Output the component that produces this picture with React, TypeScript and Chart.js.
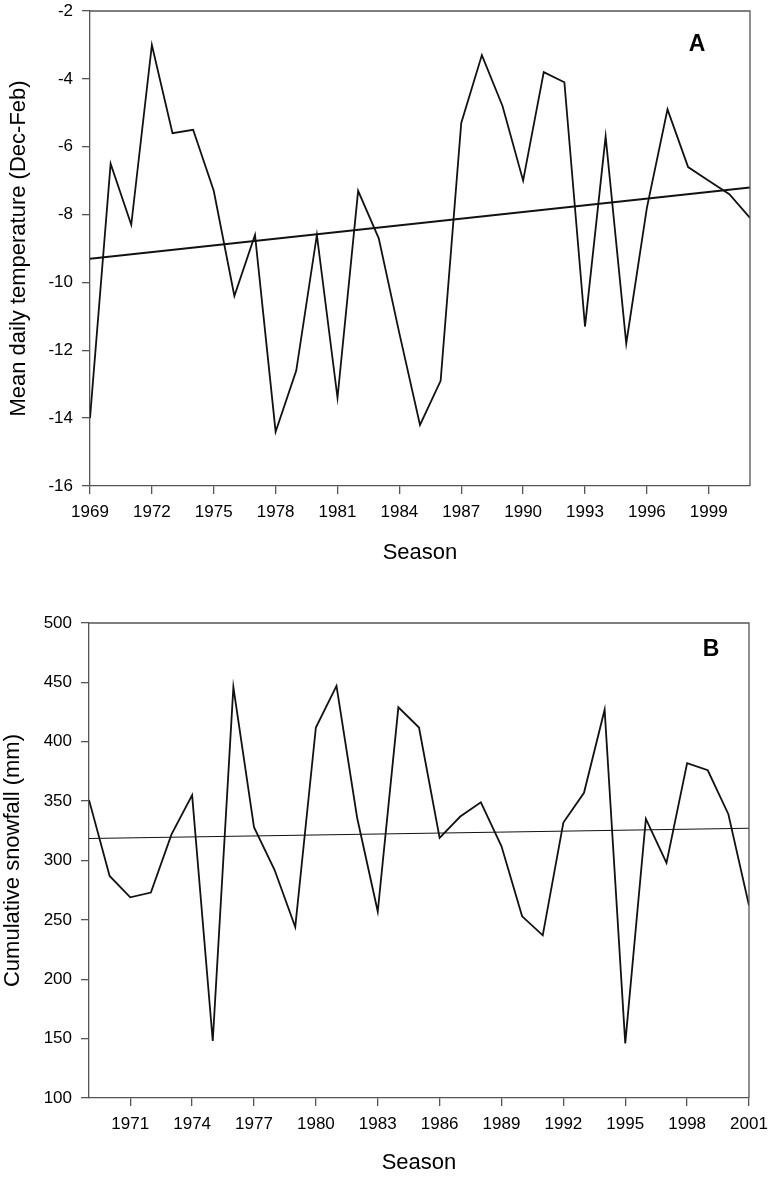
import React, { useEffect, useRef } from "react";
import { Chart, registerables } from "chart.js";

Chart.register(...registerables);

const years = [1969, 1970, 1971, 1972, 1973, 1974, 1975, 1976, 1977, 1978, 1979, 1980, 1981, 1982, 1983, 1984, 1985, 1986, 1987, 1988, 1989, 1990, 1991, 1992, 1993, 1994, 1995, 1996, 1997, 1998, 1999, 2000, 2001];
const tempA = [-14.0, -6.5, -8.3, -3.0, -5.6, -5.5, -7.3, -10.4, -8.6, -14.4, -12.6, -8.6, -13.4, -7.3, -8.7, -11.5, -14.2, -12.9, -5.3, -3.3, -4.8, -7.0, -3.8, -4.1, -11.3, -5.7, -11.8, -7.8, -4.9, -6.6, -7.0, -7.4, -8.1];
const snowB = [351, 287, 269, 273, 322, 355, 148, 446, 328, 292, 244, 412, 447, 336, 257, 429, 412, 319, 337, 349, 312, 253, 237, 332, 357, 427, 146, 335, 298, 382, 376, 339, 262];
const trendYears = [1969, 2001];
const trendA = [-9.3, -7.2];
const trendB = [318.5, 327.2];
const xTicksA = [1969, 1972, 1975, 1978, 1981, 1984, 1987, 1990, 1993, 1996, 1999];
const xTicksB = [1971, 1974, 1977, 1980, 1983, 1986, 1989, 1992, 1995, 1998, 2001];
const yTicksA = [-16, -14, -12, -10, -8, -6, -4, -2];
const yTicksB = [100, 150, 200, 250, 300, 350, 400, 450, 500];

const FONT = "Arial, 'Liberation Sans', sans-serif";

type PanelCfg = {
  values: number[];
  trend: number[];
  xTicks: number[];
  yTicks: number[];
  yTitle: string;
  letter: string;
  width: number;
  height: number;
  padTop: number;
  padRight: number;
  yWidth: number;
  xHeight: number;
  trendWidth: number;
  letterPos: [number, number];
  xTitlePadBottom: number;
  yTitlePad: number;
};

function Panel({ cfg, top }: { cfg: PanelCfg; top: number }) {
  const ref = useRef<HTMLCanvasElement | null>(null);
  useEffect(() => {
    if (!ref.current) return;
    const framePlugin = {
      id: "frame",
      afterDraw(chart: any) {
        const { ctx, chartArea } = chart;
        ctx.save();
        ctx.strokeStyle = "#555";
        ctx.lineWidth = 1.3;
        ctx.beginPath();
        ctx.moveTo(chartArea.left, chartArea.top);
        ctx.lineTo(chartArea.right, chartArea.top);
        ctx.lineTo(chartArea.right, chartArea.bottom);
        ctx.stroke();
        ctx.fillStyle = "#000";
        ctx.font = `bold 23px ${FONT}`;
        ctx.textAlign = "center";
        ctx.textBaseline = "middle";
        ctx.fillText(cfg.letter, chartArea.right - cfg.letterPos[0], chartArea.top + cfg.letterPos[1]);
        ctx.restore();
      },
    };
    const chart = new Chart(ref.current, {
      type: "line",
      data: {
        datasets: [
          {
            data: years.map((y, i) => ({ x: y, y: cfg.values[i] })),
            borderColor: "#111",
            borderWidth: 1.8,
            pointRadius: 0,
            tension: 0,
          },
          {
            data: trendYears.map((y, i) => ({ x: y, y: cfg.trend[i] })),
            borderColor: "#111",
            borderWidth: cfg.trendWidth,
            pointRadius: 0,
          },
        ],
      },
      options: {
        animation: false,
        responsive: false,
        layout: { padding: { top: cfg.padTop, right: cfg.padRight, left: 0, bottom: 0 } },
        plugins: { legend: { display: false }, tooltip: { enabled: false } },
        scales: {
          x: {
            type: "linear",
            min: 1969,
            max: 2001,
            afterBuildTicks: (scale: any) => {
              scale.ticks = cfg.xTicks.map((v) => ({ value: v }));
            },
            afterFit: (scale: any) => {
              scale.height = cfg.xHeight;
              scale.paddingLeft = 0;
              scale.paddingRight = 0;
            },
            grid: { drawOnChartArea: false, drawTicks: true, tickLength: 8, color: "#555", lineWidth: 1.3 },
            border: { display: true, color: "#555", width: 1.3 },
            ticks: {
              color: "#000",
              font: { family: FONT, size: 17 },
              padding: 8,
              maxRotation: 0,
              autoSkip: false,
              callback: (v: any) => String(v),
            },
            title: {
              display: true,
              text: "Season",
              color: "#000",
              font: { family: FONT, size: 22 },
              padding: { top: 0, bottom: cfg.xTitlePadBottom },
            },
          },
          y: {
            type: "linear",
            min: cfg.yTicks[0],
            max: cfg.yTicks[cfg.yTicks.length - 1],
            afterBuildTicks: (scale: any) => {
              scale.ticks = cfg.yTicks.map((v) => ({ value: v }));
            },
            afterFit: (scale: any) => {
              scale.width = cfg.yWidth;
              scale.paddingTop = 0;
              scale.paddingBottom = 0;
            },
            grid: { drawOnChartArea: false, drawTicks: true, tickLength: 8, color: "#555", lineWidth: 1.3 },
            border: { display: true, color: "#555", width: 1.3 },
            ticks: {
              color: "#000",
              font: { family: FONT, size: 17 },
              padding: 9,
              autoSkip: false,
              callback: (v: any) => String(v),
            },
            title: {
              display: true,
              text: cfg.yTitle,
              color: "#000",
              font: { family: FONT, size: 22 },
              padding: { top: cfg.yTitlePad, bottom: 0 },
            },
          },
        },
      },
      plugins: [framePlugin],
    });
    return () => chart.destroy();
  }, []);
  return (
    <canvas
      ref={ref}
      width={cfg.width}
      height={cfg.height}
      style={{ position: "absolute", left: 0, top, width: cfg.width, height: cfg.height }}
    />
  );
}

const panelA: PanelCfg = {
  values: tempA,
  trend: trendA,
  xTicks: xTicksA,
  yTicks: yTicksA,
  yTitle: "Mean daily temperature (Dec-Feb)",
  letter: "A",
  width: 769,
  height: 575,
  padTop: 11,
  padRight: 19,
  yWidth: 90,
  xHeight: 89,
  trendWidth: 2,
  letterPos: [53, 34],
  xTitlePadBottom: 9,
  yTitlePad: 6,
};

const panelB: PanelCfg = {
  values: snowB,
  trend: trendB,
  xTicks: xTicksB,
  yTicks: yTicksB,
  yTitle: "Cumulative snowfall (mm)",
  letter: "B",
  width: 769,
  height: 587,
  padTop: 33,
  padRight: 20,
  yWidth: 89,
  xHeight: 79,
  trendWidth: 1.1,
  letterPos: [38, 27],
  xTitlePadBottom: 1,
  yTitlePad: 0,
};

export default function App() {
  return (
    <div style={{ position: "absolute", left: 0, top: 0, width: 769, height: 1177, background: "#fff" }}>
      <Panel cfg={panelA} top={0} />
      <Panel cfg={panelB} top={590} />
    </div>
  );
}
